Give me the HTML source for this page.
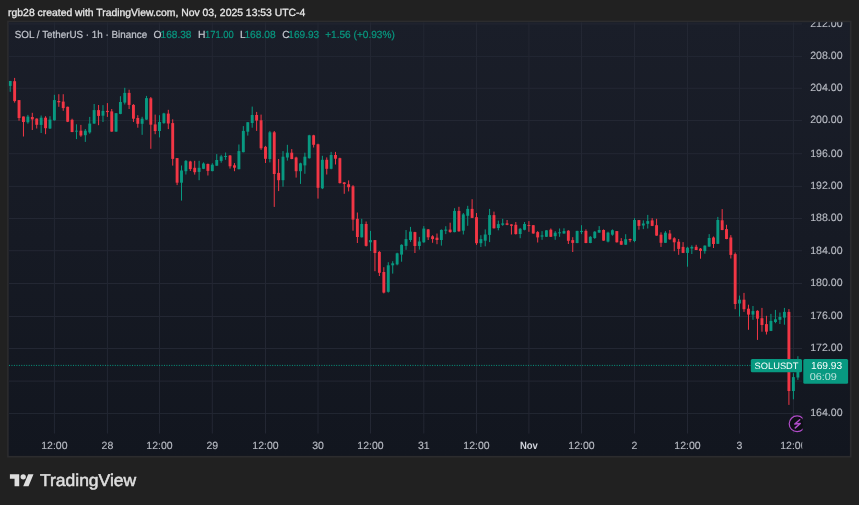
<!DOCTYPE html><html><head><meta charset="utf-8"><style>html,body{margin:0;padding:0;background:#212121;width:859px;height:505px;overflow:hidden}svg{display:block}text{font-family:"Liberation Sans", Arial, sans-serif;text-rendering:geometricPrecision}</style></head><body>
<svg width="859" height="505" viewBox="0 0 859 505">
<rect width="859" height="505" fill="#212121"/>
<text x="8.1" y="15.9" font-size="10.4" fill="#e6e6e6" stroke="#e6e6e6" stroke-width="0.3">rgb28 created with TradingView.com, Nov 03, 2025 13:53 UTC-4</text>
<defs><linearGradient id="bgg" x1="0" y1="0" x2="0" y2="1"><stop offset="0" stop-color="#1a1e29"/><stop offset="1" stop-color="#12161f"/></linearGradient></defs>
<rect x="7.9" y="21.4" width="842.8" height="435.3" fill="url(#bgg)" stroke="#2c2c2e" stroke-width="1.6"/>
<defs><clipPath id="pane"><rect x="8.7" y="22.2" width="793.5" height="411.5"/></clipPath><clipPath id="panel"><rect x="8.7" y="22.2" width="841.3" height="433.5"/></clipPath></defs>
<g clip-path="url(#pane)">
<rect x="8.7" y="23.40" width="793.5" height="1" fill="#232733"/>
<rect x="8.7" y="55.90" width="793.5" height="1" fill="#232733"/>
<rect x="8.7" y="87.80" width="793.5" height="1" fill="#232733"/>
<rect x="8.7" y="120.00" width="793.5" height="1" fill="#232733"/>
<rect x="8.7" y="153.20" width="793.5" height="1" fill="#232733"/>
<rect x="8.7" y="185.90" width="793.5" height="1" fill="#232733"/>
<rect x="8.7" y="218.00" width="793.5" height="1" fill="#232733"/>
<rect x="8.7" y="250.20" width="793.5" height="1" fill="#232733"/>
<rect x="8.7" y="283.00" width="793.5" height="1" fill="#232733"/>
<rect x="8.7" y="316.00" width="793.5" height="1" fill="#232733"/>
<rect x="8.7" y="348.00" width="793.5" height="1" fill="#232733"/>
<rect x="8.7" y="380.60" width="793.5" height="1" fill="#232733"/>
<rect x="8.7" y="412.95" width="793.5" height="1" fill="#232733"/>
<rect x="53.90" y="22.2" width="1" height="411.5" fill="#232733"/>
<rect x="106.90" y="22.2" width="1" height="411.5" fill="#232733"/>
<rect x="159.00" y="22.2" width="1" height="411.5" fill="#232733"/>
<rect x="211.80" y="22.2" width="1" height="411.5" fill="#232733"/>
<rect x="265.00" y="22.2" width="1" height="411.5" fill="#232733"/>
<rect x="317.50" y="22.2" width="1" height="411.5" fill="#232733"/>
<rect x="370.00" y="22.2" width="1" height="411.5" fill="#232733"/>
<rect x="423.30" y="22.2" width="1" height="411.5" fill="#232733"/>
<rect x="476.00" y="22.2" width="1" height="411.5" fill="#232733"/>
<rect x="528.40" y="22.2" width="1" height="411.5" fill="#232733"/>
<rect x="581.00" y="22.2" width="1" height="411.5" fill="#232733"/>
<rect x="634.00" y="22.2" width="1" height="411.5" fill="#232733"/>
<rect x="687.00" y="22.2" width="1" height="411.5" fill="#232733"/>
<rect x="739.00" y="22.2" width="1" height="411.5" fill="#232733"/>
<rect x="792.90" y="22.2" width="1" height="411.5" fill="#232733"/>
</g>
<g clip-path="url(#pane)">
<rect x="9.70" y="80.90" width="1" height="10.90" fill="#089981"/>
<rect x="8.75" y="81.00" width="2.9" height="4.90" fill="#089981"/>
<rect x="14.12" y="77.90" width="1" height="24.70" fill="#f23645"/>
<rect x="13.17" y="81.20" width="2.9" height="19.90" fill="#f23645"/>
<rect x="18.54" y="100.10" width="1" height="20.60" fill="#f23645"/>
<rect x="17.59" y="100.10" width="2.9" height="17.90" fill="#f23645"/>
<rect x="22.96" y="116.50" width="1" height="20.00" fill="#f23645"/>
<rect x="22.01" y="116.50" width="2.9" height="5.50" fill="#f23645"/>
<rect x="27.38" y="114.90" width="1" height="8.80" fill="#089981"/>
<rect x="26.43" y="116.60" width="2.9" height="5.70" fill="#089981"/>
<rect x="31.80" y="112.80" width="1" height="17.20" fill="#f23645"/>
<rect x="30.85" y="117.00" width="2.9" height="2.40" fill="#f23645"/>
<rect x="36.22" y="118.30" width="1" height="10.20" fill="#f23645"/>
<rect x="35.27" y="118.60" width="2.9" height="6.20" fill="#f23645"/>
<rect x="40.64" y="115.50" width="1" height="17.50" fill="#089981"/>
<rect x="39.69" y="117.70" width="2.9" height="7.20" fill="#089981"/>
<rect x="45.06" y="116.20" width="1" height="18.00" fill="#f23645"/>
<rect x="44.11" y="117.70" width="2.9" height="10.50" fill="#f23645"/>
<rect x="49.48" y="116.20" width="1" height="12.80" fill="#089981"/>
<rect x="48.53" y="119.60" width="2.9" height="8.90" fill="#089981"/>
<rect x="53.90" y="94.80" width="1" height="25.90" fill="#089981"/>
<rect x="52.95" y="100.10" width="2.9" height="20.20" fill="#089981"/>
<rect x="58.32" y="94.20" width="1" height="12.60" fill="#f23645"/>
<rect x="57.37" y="101.00" width="2.9" height="1.30" fill="#f23645"/>
<rect x="62.73" y="94.20" width="1" height="16.60" fill="#f23645"/>
<rect x="61.78" y="101.60" width="2.9" height="6.50" fill="#f23645"/>
<rect x="67.15" y="106.60" width="1" height="15.50" fill="#f23645"/>
<rect x="66.20" y="106.80" width="2.9" height="14.90" fill="#f23645"/>
<rect x="71.57" y="118.70" width="1" height="13.50" fill="#f23645"/>
<rect x="70.62" y="119.80" width="2.9" height="12.20" fill="#f23645"/>
<rect x="75.98" y="124.30" width="1" height="14.80" fill="#089981"/>
<rect x="75.03" y="130.70" width="2.9" height="0.90" fill="#089981"/>
<rect x="80.40" y="124.90" width="1" height="11.90" fill="#f23645"/>
<rect x="79.45" y="130.70" width="2.9" height="4.80" fill="#f23645"/>
<rect x="84.82" y="129.00" width="1" height="12.90" fill="#089981"/>
<rect x="83.87" y="130.70" width="2.9" height="4.50" fill="#089981"/>
<rect x="89.23" y="116.90" width="1" height="16.80" fill="#089981"/>
<rect x="88.28" y="123.60" width="2.9" height="8.80" fill="#089981"/>
<rect x="93.65" y="104.00" width="1" height="19.80" fill="#089981"/>
<rect x="92.70" y="110.10" width="2.9" height="13.50" fill="#089981"/>
<rect x="98.07" y="105.00" width="1" height="20.20" fill="#f23645"/>
<rect x="97.12" y="110.10" width="2.9" height="5.80" fill="#f23645"/>
<rect x="102.48" y="105.10" width="1" height="16.90" fill="#089981"/>
<rect x="101.53" y="110.90" width="2.9" height="4.80" fill="#089981"/>
<rect x="106.90" y="103.10" width="1" height="13.80" fill="#f23645"/>
<rect x="105.95" y="110.90" width="2.9" height="1.20" fill="#f23645"/>
<rect x="111.24" y="109.00" width="1" height="22.80" fill="#f23645"/>
<rect x="110.29" y="111.40" width="2.9" height="20.20" fill="#f23645"/>
<rect x="115.58" y="113.00" width="1" height="18.80" fill="#089981"/>
<rect x="114.63" y="113.20" width="2.9" height="18.40" fill="#089981"/>
<rect x="119.93" y="96.20" width="1" height="18.00" fill="#089981"/>
<rect x="118.98" y="102.00" width="2.9" height="11.90" fill="#089981"/>
<rect x="124.27" y="87.80" width="1" height="16.70" fill="#089981"/>
<rect x="123.32" y="92.90" width="2.9" height="9.70" fill="#089981"/>
<rect x="128.61" y="89.70" width="1" height="19.30" fill="#f23645"/>
<rect x="127.66" y="92.90" width="2.9" height="12.00" fill="#f23645"/>
<rect x="132.95" y="104.10" width="1" height="17.80" fill="#f23645"/>
<rect x="132.00" y="104.90" width="2.9" height="13.80" fill="#f23645"/>
<rect x="137.29" y="115.20" width="1" height="12.50" fill="#f23645"/>
<rect x="136.34" y="118.00" width="2.9" height="5.80" fill="#f23645"/>
<rect x="141.63" y="116.80" width="1" height="18.00" fill="#089981"/>
<rect x="140.68" y="118.70" width="2.9" height="5.10" fill="#089981"/>
<rect x="145.97" y="95.90" width="1" height="23.90" fill="#089981"/>
<rect x="145.03" y="98.10" width="2.9" height="21.50" fill="#089981"/>
<rect x="150.32" y="97.00" width="1" height="51.80" fill="#f23645"/>
<rect x="149.37" y="98.30" width="2.9" height="26.40" fill="#f23645"/>
<rect x="154.66" y="114.60" width="1" height="19.60" fill="#f23645"/>
<rect x="153.71" y="124.40" width="2.9" height="6.60" fill="#f23645"/>
<rect x="159.00" y="115.20" width="1" height="22.20" fill="#089981"/>
<rect x="158.05" y="122.00" width="2.9" height="9.00" fill="#089981"/>
<rect x="163.40" y="112.80" width="1" height="11.00" fill="#089981"/>
<rect x="162.45" y="113.40" width="2.9" height="9.70" fill="#089981"/>
<rect x="167.80" y="109.80" width="1" height="19.30" fill="#f23645"/>
<rect x="166.85" y="113.60" width="2.9" height="9.90" fill="#f23645"/>
<rect x="172.20" y="119.30" width="1" height="46.30" fill="#f23645"/>
<rect x="171.25" y="123.10" width="2.9" height="35.80" fill="#f23645"/>
<rect x="176.60" y="158.00" width="1" height="27.10" fill="#f23645"/>
<rect x="175.65" y="158.10" width="2.9" height="24.60" fill="#f23645"/>
<rect x="181.00" y="165.50" width="1" height="35.10" fill="#089981"/>
<rect x="180.05" y="170.50" width="2.9" height="12.20" fill="#089981"/>
<rect x="185.40" y="160.00" width="1" height="14.50" fill="#089981"/>
<rect x="184.45" y="160.90" width="2.9" height="10.30" fill="#089981"/>
<rect x="189.80" y="160.80" width="1" height="10.20" fill="#f23645"/>
<rect x="188.85" y="161.50" width="2.9" height="7.60" fill="#f23645"/>
<rect x="194.20" y="160.80" width="1" height="13.80" fill="#f23645"/>
<rect x="193.25" y="167.80" width="2.9" height="4.40" fill="#f23645"/>
<rect x="198.60" y="160.80" width="1" height="19.40" fill="#089981"/>
<rect x="197.65" y="167.80" width="2.9" height="4.10" fill="#089981"/>
<rect x="203.00" y="162.40" width="1" height="6.70" fill="#089981"/>
<rect x="202.05" y="163.50" width="2.9" height="5.30" fill="#089981"/>
<rect x="207.40" y="163.50" width="1" height="12.00" fill="#f23645"/>
<rect x="206.45" y="164.00" width="2.9" height="6.90" fill="#f23645"/>
<rect x="211.80" y="163.20" width="1" height="8.10" fill="#089981"/>
<rect x="210.85" y="164.70" width="2.9" height="6.40" fill="#089981"/>
<rect x="216.23" y="154.10" width="1" height="11.70" fill="#089981"/>
<rect x="215.28" y="160.00" width="2.9" height="5.70" fill="#089981"/>
<rect x="220.67" y="154.80" width="1" height="7.90" fill="#089981"/>
<rect x="219.72" y="156.40" width="2.9" height="4.50" fill="#089981"/>
<rect x="225.10" y="152.50" width="1" height="7.30" fill="#089981"/>
<rect x="224.15" y="156.00" width="2.9" height="1.00" fill="#089981"/>
<rect x="229.53" y="155.00" width="1" height="13.60" fill="#f23645"/>
<rect x="228.58" y="155.50" width="2.9" height="10.80" fill="#f23645"/>
<rect x="233.97" y="163.10" width="1" height="8.10" fill="#f23645"/>
<rect x="233.02" y="165.30" width="2.9" height="2.40" fill="#f23645"/>
<rect x="238.40" y="144.50" width="1" height="24.80" fill="#089981"/>
<rect x="237.45" y="151.10" width="2.9" height="18.10" fill="#089981"/>
<rect x="242.83" y="126.10" width="1" height="26.20" fill="#089981"/>
<rect x="241.88" y="130.90" width="2.9" height="21.30" fill="#089981"/>
<rect x="247.27" y="122.20" width="1" height="13.40" fill="#089981"/>
<rect x="246.32" y="122.20" width="2.9" height="9.50" fill="#089981"/>
<rect x="251.70" y="106.60" width="1" height="21.10" fill="#089981"/>
<rect x="250.75" y="115.00" width="2.9" height="8.00" fill="#089981"/>
<rect x="256.13" y="111.90" width="1" height="19.00" fill="#f23645"/>
<rect x="255.18" y="115.00" width="2.9" height="5.60" fill="#f23645"/>
<rect x="260.57" y="114.60" width="1" height="35.30" fill="#f23645"/>
<rect x="259.62" y="120.30" width="2.9" height="28.00" fill="#f23645"/>
<rect x="265.00" y="145.90" width="1" height="17.10" fill="#f23645"/>
<rect x="264.05" y="146.80" width="2.9" height="12.00" fill="#f23645"/>
<rect x="269.38" y="130.90" width="1" height="31.50" fill="#089981"/>
<rect x="268.43" y="132.30" width="2.9" height="26.70" fill="#089981"/>
<rect x="273.75" y="131.00" width="1" height="75.90" fill="#f23645"/>
<rect x="272.80" y="132.30" width="2.9" height="41.70" fill="#f23645"/>
<rect x="278.12" y="159.00" width="1" height="32.10" fill="#f23645"/>
<rect x="277.18" y="172.90" width="2.9" height="7.30" fill="#f23645"/>
<rect x="282.50" y="151.10" width="1" height="35.60" fill="#089981"/>
<rect x="281.55" y="156.70" width="2.9" height="23.50" fill="#089981"/>
<rect x="286.88" y="144.80" width="1" height="15.80" fill="#089981"/>
<rect x="285.93" y="152.70" width="2.9" height="4.80" fill="#089981"/>
<rect x="291.25" y="149.10" width="1" height="10.10" fill="#f23645"/>
<rect x="290.30" y="152.70" width="2.9" height="6.30" fill="#f23645"/>
<rect x="295.62" y="156.70" width="1" height="20.90" fill="#f23645"/>
<rect x="294.68" y="157.50" width="2.9" height="13.70" fill="#f23645"/>
<rect x="300.00" y="162.70" width="1" height="21.20" fill="#089981"/>
<rect x="299.05" y="163.30" width="2.9" height="7.90" fill="#089981"/>
<rect x="304.38" y="152.70" width="1" height="21.10" fill="#089981"/>
<rect x="303.43" y="156.70" width="2.9" height="8.70" fill="#089981"/>
<rect x="308.75" y="134.80" width="1" height="23.80" fill="#089981"/>
<rect x="307.80" y="135.30" width="2.9" height="22.90" fill="#089981"/>
<rect x="313.12" y="134.80" width="1" height="12.70" fill="#f23645"/>
<rect x="312.18" y="135.30" width="2.9" height="9.50" fill="#f23645"/>
<rect x="317.50" y="143.70" width="1" height="54.90" fill="#f23645"/>
<rect x="316.55" y="144.30" width="2.9" height="43.50" fill="#f23645"/>
<rect x="321.88" y="155.80" width="1" height="33.30" fill="#089981"/>
<rect x="320.93" y="159.80" width="2.9" height="28.50" fill="#089981"/>
<rect x="326.25" y="157.40" width="1" height="17.10" fill="#f23645"/>
<rect x="325.30" y="159.80" width="2.9" height="9.00" fill="#f23645"/>
<rect x="330.62" y="151.90" width="1" height="17.40" fill="#089981"/>
<rect x="329.68" y="155.00" width="2.9" height="13.80" fill="#089981"/>
<rect x="335.00" y="151.90" width="1" height="12.60" fill="#f23645"/>
<rect x="334.05" y="155.00" width="2.9" height="3.70" fill="#f23645"/>
<rect x="339.38" y="157.70" width="1" height="25.80" fill="#f23645"/>
<rect x="338.43" y="158.20" width="2.9" height="24.90" fill="#f23645"/>
<rect x="343.75" y="182.00" width="1" height="11.80" fill="#f23645"/>
<rect x="342.80" y="182.40" width="2.9" height="1.60" fill="#f23645"/>
<rect x="348.12" y="180.40" width="1" height="11.00" fill="#f23645"/>
<rect x="347.18" y="184.30" width="2.9" height="2.90" fill="#f23645"/>
<rect x="352.50" y="185.10" width="1" height="45.60" fill="#f23645"/>
<rect x="351.55" y="186.30" width="2.9" height="33.30" fill="#f23645"/>
<rect x="356.88" y="212.50" width="1" height="30.50" fill="#f23645"/>
<rect x="355.93" y="218.80" width="2.9" height="18.20" fill="#f23645"/>
<rect x="361.25" y="218.80" width="1" height="18.70" fill="#089981"/>
<rect x="360.30" y="224.00" width="2.9" height="13.30" fill="#089981"/>
<rect x="365.62" y="221.50" width="1" height="25.00" fill="#f23645"/>
<rect x="364.68" y="224.00" width="2.9" height="21.90" fill="#f23645"/>
<rect x="370.00" y="230.90" width="1" height="20.10" fill="#089981"/>
<rect x="369.05" y="240.10" width="2.9" height="2.20" fill="#089981"/>
<rect x="374.44" y="240.00" width="1" height="31.20" fill="#f23645"/>
<rect x="373.49" y="240.10" width="2.9" height="12.90" fill="#f23645"/>
<rect x="378.88" y="251.10" width="1" height="24.90" fill="#f23645"/>
<rect x="377.93" y="251.90" width="2.9" height="20.90" fill="#f23645"/>
<rect x="383.32" y="267.20" width="1" height="26.20" fill="#f23645"/>
<rect x="382.38" y="272.00" width="2.9" height="20.60" fill="#f23645"/>
<rect x="387.77" y="262.20" width="1" height="30.40" fill="#089981"/>
<rect x="386.82" y="265.30" width="2.9" height="26.50" fill="#089981"/>
<rect x="392.21" y="261.20" width="1" height="12.40" fill="#089981"/>
<rect x="391.26" y="263.30" width="2.9" height="2.00" fill="#089981"/>
<rect x="396.65" y="252.70" width="1" height="12.60" fill="#089981"/>
<rect x="395.70" y="253.30" width="2.9" height="11.10" fill="#089981"/>
<rect x="401.09" y="244.30" width="1" height="17.40" fill="#089981"/>
<rect x="400.14" y="244.80" width="2.9" height="9.80" fill="#089981"/>
<rect x="405.53" y="230.00" width="1" height="19.80" fill="#089981"/>
<rect x="404.58" y="239.10" width="2.9" height="6.80" fill="#089981"/>
<rect x="409.98" y="226.90" width="1" height="15.00" fill="#089981"/>
<rect x="409.03" y="231.60" width="2.9" height="8.40" fill="#089981"/>
<rect x="414.42" y="231.80" width="1" height="21.20" fill="#f23645"/>
<rect x="413.47" y="232.10" width="2.9" height="13.90" fill="#f23645"/>
<rect x="418.86" y="236.90" width="1" height="12.70" fill="#089981"/>
<rect x="417.91" y="241.50" width="2.9" height="4.50" fill="#089981"/>
<rect x="423.30" y="226.10" width="1" height="16.70" fill="#089981"/>
<rect x="422.35" y="228.60" width="2.9" height="13.70" fill="#089981"/>
<rect x="427.69" y="229.00" width="1" height="11.00" fill="#f23645"/>
<rect x="426.74" y="229.40" width="2.9" height="7.90" fill="#f23645"/>
<rect x="432.08" y="235.20" width="1" height="7.60" fill="#f23645"/>
<rect x="431.13" y="236.30" width="2.9" height="2.80" fill="#f23645"/>
<rect x="436.48" y="233.50" width="1" height="10.70" fill="#f23645"/>
<rect x="435.53" y="237.70" width="2.9" height="2.30" fill="#f23645"/>
<rect x="440.87" y="229.40" width="1" height="16.20" fill="#089981"/>
<rect x="439.92" y="229.90" width="2.9" height="10.10" fill="#089981"/>
<rect x="445.26" y="226.20" width="1" height="7.90" fill="#089981"/>
<rect x="444.31" y="229.60" width="2.9" height="1.10" fill="#089981"/>
<rect x="449.65" y="222.70" width="1" height="10.00" fill="#f23645"/>
<rect x="448.70" y="229.60" width="2.9" height="2.50" fill="#f23645"/>
<rect x="454.04" y="208.20" width="1" height="24.10" fill="#089981"/>
<rect x="453.09" y="210.90" width="2.9" height="21.20" fill="#089981"/>
<rect x="458.43" y="206.80" width="1" height="24.90" fill="#f23645"/>
<rect x="457.48" y="210.90" width="2.9" height="20.40" fill="#f23645"/>
<rect x="462.82" y="213.00" width="1" height="21.50" fill="#089981"/>
<rect x="461.88" y="214.40" width="2.9" height="16.30" fill="#089981"/>
<rect x="467.22" y="205.80" width="1" height="20.00" fill="#089981"/>
<rect x="466.27" y="208.90" width="2.9" height="6.90" fill="#089981"/>
<rect x="471.61" y="199.20" width="1" height="18.90" fill="#f23645"/>
<rect x="470.66" y="208.90" width="2.9" height="9.00" fill="#f23645"/>
<rect x="476.00" y="213.00" width="1" height="31.90" fill="#f23645"/>
<rect x="475.05" y="217.20" width="2.9" height="26.00" fill="#f23645"/>
<rect x="480.37" y="235.20" width="1" height="11.80" fill="#089981"/>
<rect x="479.42" y="239.10" width="2.9" height="4.10" fill="#089981"/>
<rect x="484.73" y="229.40" width="1" height="16.90" fill="#089981"/>
<rect x="483.78" y="234.50" width="2.9" height="6.20" fill="#089981"/>
<rect x="489.10" y="208.90" width="1" height="33.20" fill="#089981"/>
<rect x="488.15" y="215.10" width="2.9" height="19.80" fill="#089981"/>
<rect x="493.47" y="211.60" width="1" height="16.90" fill="#f23645"/>
<rect x="492.52" y="215.10" width="2.9" height="13.20" fill="#f23645"/>
<rect x="497.83" y="220.60" width="1" height="9.70" fill="#089981"/>
<rect x="496.88" y="224.10" width="2.9" height="3.90" fill="#089981"/>
<rect x="502.20" y="218.80" width="1" height="7.00" fill="#089981"/>
<rect x="501.25" y="223.40" width="2.9" height="1.40" fill="#089981"/>
<rect x="506.57" y="220.00" width="1" height="5.20" fill="#f23645"/>
<rect x="505.62" y="223.40" width="2.9" height="1.40" fill="#f23645"/>
<rect x="510.93" y="224.20" width="1" height="10.30" fill="#f23645"/>
<rect x="509.98" y="224.40" width="2.9" height="1.40" fill="#f23645"/>
<rect x="515.30" y="222.00" width="1" height="12.50" fill="#f23645"/>
<rect x="514.35" y="224.80" width="2.9" height="9.30" fill="#f23645"/>
<rect x="519.67" y="227.90" width="1" height="10.30" fill="#089981"/>
<rect x="518.72" y="228.80" width="2.9" height="5.20" fill="#089981"/>
<rect x="524.03" y="222.00" width="1" height="8.30" fill="#089981"/>
<rect x="523.08" y="224.00" width="2.9" height="5.80" fill="#089981"/>
<rect x="528.40" y="221.10" width="1" height="10.70" fill="#f23645"/>
<rect x="527.45" y="225.00" width="2.9" height="0.90" fill="#f23645"/>
<rect x="532.78" y="225.00" width="1" height="8.70" fill="#f23645"/>
<rect x="531.83" y="225.20" width="2.9" height="8.30" fill="#f23645"/>
<rect x="537.17" y="231.10" width="1" height="11.40" fill="#f23645"/>
<rect x="536.22" y="232.10" width="2.9" height="5.30" fill="#f23645"/>
<rect x="541.55" y="231.10" width="1" height="8.70" fill="#089981"/>
<rect x="540.60" y="235.40" width="2.9" height="1.20" fill="#089981"/>
<rect x="545.93" y="230.20" width="1" height="6.80" fill="#089981"/>
<rect x="544.98" y="230.30" width="2.9" height="6.50" fill="#089981"/>
<rect x="550.32" y="228.50" width="1" height="8.50" fill="#f23645"/>
<rect x="549.37" y="229.70" width="2.9" height="7.10" fill="#f23645"/>
<rect x="554.70" y="231.10" width="1" height="8.70" fill="#089981"/>
<rect x="553.75" y="232.70" width="2.9" height="3.50" fill="#089981"/>
<rect x="559.08" y="228.50" width="1" height="8.30" fill="#089981"/>
<rect x="558.13" y="232.30" width="2.9" height="1.00" fill="#089981"/>
<rect x="563.47" y="228.30" width="1" height="5.40" fill="#089981"/>
<rect x="562.52" y="231.10" width="2.9" height="2.40" fill="#089981"/>
<rect x="567.85" y="230.20" width="1" height="13.80" fill="#f23645"/>
<rect x="566.90" y="230.70" width="2.9" height="10.10" fill="#f23645"/>
<rect x="572.23" y="237.20" width="1" height="14.80" fill="#f23645"/>
<rect x="571.28" y="240.10" width="2.9" height="2.80" fill="#f23645"/>
<rect x="576.62" y="230.80" width="1" height="12.40" fill="#089981"/>
<rect x="575.67" y="230.90" width="2.9" height="12.10" fill="#089981"/>
<rect x="581.00" y="225.20" width="1" height="8.90" fill="#089981"/>
<rect x="580.05" y="230.90" width="2.9" height="1.20" fill="#089981"/>
<rect x="585.42" y="229.40" width="1" height="13.80" fill="#f23645"/>
<rect x="584.47" y="230.90" width="2.9" height="12.10" fill="#f23645"/>
<rect x="589.83" y="236.10" width="1" height="7.10" fill="#089981"/>
<rect x="588.88" y="236.80" width="2.9" height="6.20" fill="#089981"/>
<rect x="594.25" y="231.10" width="1" height="7.80" fill="#089981"/>
<rect x="593.30" y="231.70" width="2.9" height="6.30" fill="#089981"/>
<rect x="598.67" y="226.10" width="1" height="6.70" fill="#089981"/>
<rect x="597.72" y="230.00" width="2.9" height="2.60" fill="#089981"/>
<rect x="603.08" y="229.40" width="1" height="11.40" fill="#f23645"/>
<rect x="602.13" y="230.00" width="2.9" height="10.60" fill="#f23645"/>
<rect x="607.50" y="231.70" width="1" height="10.70" fill="#089981"/>
<rect x="606.55" y="232.60" width="2.9" height="9.00" fill="#089981"/>
<rect x="611.92" y="229.40" width="1" height="6.30" fill="#089981"/>
<rect x="610.97" y="230.20" width="2.9" height="4.50" fill="#089981"/>
<rect x="616.33" y="231.00" width="1" height="11.50" fill="#f23645"/>
<rect x="615.38" y="231.10" width="2.9" height="11.20" fill="#f23645"/>
<rect x="620.75" y="238.10" width="1" height="6.80" fill="#f23645"/>
<rect x="619.80" y="241.10" width="2.9" height="3.60" fill="#f23645"/>
<rect x="625.17" y="234.20" width="1" height="10.70" fill="#089981"/>
<rect x="624.22" y="239.20" width="2.9" height="5.50" fill="#089981"/>
<rect x="629.58" y="238.60" width="1" height="3.60" fill="#f23645"/>
<rect x="628.63" y="239.00" width="2.9" height="1.20" fill="#f23645"/>
<rect x="634.00" y="218.10" width="1" height="24.10" fill="#089981"/>
<rect x="633.05" y="220.00" width="2.9" height="21.00" fill="#089981"/>
<rect x="638.42" y="220.00" width="1" height="9.70" fill="#f23645"/>
<rect x="637.47" y="220.10" width="2.9" height="5.80" fill="#f23645"/>
<rect x="642.83" y="220.40" width="1" height="8.70" fill="#089981"/>
<rect x="641.88" y="223.50" width="2.9" height="2.00" fill="#089981"/>
<rect x="647.25" y="214.90" width="1" height="13.60" fill="#089981"/>
<rect x="646.30" y="221.10" width="2.9" height="2.70" fill="#089981"/>
<rect x="651.67" y="218.10" width="1" height="8.00" fill="#f23645"/>
<rect x="650.72" y="220.40" width="2.9" height="5.50" fill="#f23645"/>
<rect x="656.08" y="218.80" width="1" height="17.00" fill="#f23645"/>
<rect x="655.13" y="225.20" width="2.9" height="10.40" fill="#f23645"/>
<rect x="660.50" y="232.30" width="1" height="14.60" fill="#f23645"/>
<rect x="659.55" y="234.70" width="2.9" height="8.10" fill="#f23645"/>
<rect x="664.92" y="231.10" width="1" height="11.90" fill="#089981"/>
<rect x="663.97" y="232.70" width="2.9" height="10.10" fill="#089981"/>
<rect x="669.33" y="230.00" width="1" height="9.80" fill="#f23645"/>
<rect x="668.38" y="233.50" width="2.9" height="5.80" fill="#f23645"/>
<rect x="673.75" y="237.20" width="1" height="14.00" fill="#f23645"/>
<rect x="672.80" y="238.30" width="2.9" height="4.00" fill="#f23645"/>
<rect x="678.17" y="239.00" width="1" height="15.80" fill="#f23645"/>
<rect x="677.22" y="241.70" width="2.9" height="7.20" fill="#f23645"/>
<rect x="682.58" y="242.10" width="1" height="11.00" fill="#f23645"/>
<rect x="681.63" y="246.90" width="2.9" height="6.00" fill="#f23645"/>
<rect x="687.00" y="246.80" width="1" height="19.90" fill="#089981"/>
<rect x="686.05" y="247.70" width="2.9" height="5.20" fill="#089981"/>
<rect x="691.33" y="245.30" width="1" height="8.70" fill="#089981"/>
<rect x="690.38" y="246.90" width="2.9" height="1.60" fill="#089981"/>
<rect x="695.67" y="244.80" width="1" height="5.30" fill="#f23645"/>
<rect x="694.72" y="246.80" width="2.9" height="3.20" fill="#f23645"/>
<rect x="700.00" y="248.00" width="1" height="10.70" fill="#f23645"/>
<rect x="699.05" y="248.60" width="2.9" height="2.30" fill="#f23645"/>
<rect x="704.33" y="245.40" width="1" height="8.30" fill="#089981"/>
<rect x="703.38" y="245.60" width="2.9" height="5.50" fill="#089981"/>
<rect x="708.67" y="234.10" width="1" height="12.70" fill="#089981"/>
<rect x="707.72" y="238.00" width="2.9" height="8.60" fill="#089981"/>
<rect x="713.00" y="236.50" width="1" height="11.50" fill="#f23645"/>
<rect x="712.05" y="237.50" width="2.9" height="6.50" fill="#f23645"/>
<rect x="717.33" y="216.90" width="1" height="27.10" fill="#089981"/>
<rect x="716.38" y="220.00" width="2.9" height="23.80" fill="#089981"/>
<rect x="721.67" y="209.10" width="1" height="21.10" fill="#f23645"/>
<rect x="720.72" y="220.30" width="2.9" height="9.70" fill="#f23645"/>
<rect x="726.00" y="224.80" width="1" height="14.40" fill="#f23645"/>
<rect x="725.05" y="229.10" width="2.9" height="9.90" fill="#f23645"/>
<rect x="730.33" y="235.10" width="1" height="23.40" fill="#f23645"/>
<rect x="729.38" y="237.50" width="2.9" height="17.40" fill="#f23645"/>
<rect x="734.67" y="252.50" width="1" height="56.70" fill="#f23645"/>
<rect x="733.72" y="254.10" width="2.9" height="49.90" fill="#f23645"/>
<rect x="739.00" y="295.60" width="1" height="21.00" fill="#089981"/>
<rect x="738.05" y="299.70" width="2.9" height="3.80" fill="#089981"/>
<rect x="743.49" y="292.90" width="1" height="19.00" fill="#f23645"/>
<rect x="742.54" y="299.70" width="2.9" height="9.50" fill="#f23645"/>
<rect x="747.98" y="304.70" width="1" height="25.10" fill="#f23645"/>
<rect x="747.03" y="308.70" width="2.9" height="5.90" fill="#f23645"/>
<rect x="752.48" y="306.00" width="1" height="13.80" fill="#089981"/>
<rect x="751.52" y="311.10" width="2.9" height="3.50" fill="#089981"/>
<rect x="756.97" y="310.30" width="1" height="29.60" fill="#f23645"/>
<rect x="756.02" y="310.80" width="2.9" height="7.90" fill="#f23645"/>
<rect x="761.46" y="307.90" width="1" height="23.80" fill="#f23645"/>
<rect x="760.51" y="318.20" width="2.9" height="6.80" fill="#f23645"/>
<rect x="765.95" y="315.80" width="1" height="18.70" fill="#f23645"/>
<rect x="765.00" y="324.10" width="2.9" height="7.60" fill="#f23645"/>
<rect x="770.44" y="313.90" width="1" height="17.20" fill="#089981"/>
<rect x="769.49" y="320.90" width="2.9" height="10.00" fill="#089981"/>
<rect x="774.93" y="309.90" width="1" height="13.30" fill="#089981"/>
<rect x="773.98" y="319.30" width="2.9" height="2.70" fill="#089981"/>
<rect x="779.42" y="312.50" width="1" height="11.50" fill="#089981"/>
<rect x="778.47" y="317.00" width="2.9" height="2.80" fill="#089981"/>
<rect x="783.92" y="307.90" width="1" height="16.80" fill="#089981"/>
<rect x="782.97" y="311.90" width="2.9" height="5.70" fill="#089981"/>
<rect x="788.41" y="309.10" width="1" height="95.80" fill="#f23645"/>
<rect x="787.46" y="311.90" width="2.9" height="79.10" fill="#f23645"/>
<rect x="792.90" y="373.20" width="1" height="26.10" fill="#089981"/>
<rect x="791.95" y="377.10" width="2.9" height="13.90" fill="#089981"/>
<rect x="797.39" y="356.20" width="1" height="23.70" fill="#089981"/>
<rect x="796.44" y="364.90" width="2.9" height="12.60" fill="#089981"/>
</g>
<line x1="9" y1="365.4" x2="751" y2="365.4" stroke="#089981" stroke-width="1" stroke-dasharray="1 1.46"/>
<g clip-path="url(#panel)">
<text x="842.6" y="26.80" font-size="10.6" fill="#babdc5" stroke="#babdc5" stroke-width="0.12" text-anchor="end">212.00</text>
<text x="842.6" y="59.30" font-size="10.6" fill="#babdc5" stroke="#babdc5" stroke-width="0.12" text-anchor="end">208.00</text>
<text x="842.6" y="91.20" font-size="10.6" fill="#babdc5" stroke="#babdc5" stroke-width="0.12" text-anchor="end">204.00</text>
<text x="842.6" y="123.40" font-size="10.6" fill="#babdc5" stroke="#babdc5" stroke-width="0.12" text-anchor="end">200.00</text>
<text x="842.6" y="156.60" font-size="10.6" fill="#babdc5" stroke="#babdc5" stroke-width="0.12" text-anchor="end">196.00</text>
<text x="842.6" y="189.30" font-size="10.6" fill="#babdc5" stroke="#babdc5" stroke-width="0.12" text-anchor="end">192.00</text>
<text x="842.6" y="221.40" font-size="10.6" fill="#babdc5" stroke="#babdc5" stroke-width="0.12" text-anchor="end">188.00</text>
<text x="842.6" y="253.60" font-size="10.6" fill="#babdc5" stroke="#babdc5" stroke-width="0.12" text-anchor="end">184.00</text>
<text x="842.6" y="286.40" font-size="10.6" fill="#babdc5" stroke="#babdc5" stroke-width="0.12" text-anchor="end">180.00</text>
<text x="842.6" y="319.40" font-size="10.6" fill="#babdc5" stroke="#babdc5" stroke-width="0.12" text-anchor="end">176.00</text>
<text x="842.6" y="351.40" font-size="10.6" fill="#babdc5" stroke="#babdc5" stroke-width="0.12" text-anchor="end">172.00</text>
<text x="842.6" y="416.35" font-size="10.6" fill="#babdc5" stroke="#babdc5" stroke-width="0.12" text-anchor="end">164.00</text>
</g>
<defs><clipPath id="taxis"><rect x="8.7" y="434" width="793.5" height="21"/></clipPath></defs>
<g clip-path="url(#taxis)">
<text x="54.40" y="449.2" font-size="10.5" fill="#babdc5" stroke="#babdc5" stroke-width="0.12" text-anchor="middle">12:00</text>
<text x="107.40" y="449.2" font-size="10.5" fill="#babdc5" stroke="#babdc5" stroke-width="0.12" text-anchor="middle">28</text>
<text x="159.50" y="449.2" font-size="10.5" fill="#babdc5" stroke="#babdc5" stroke-width="0.12" text-anchor="middle">12:00</text>
<text x="212.30" y="449.2" font-size="10.5" fill="#babdc5" stroke="#babdc5" stroke-width="0.12" text-anchor="middle">29</text>
<text x="265.50" y="449.2" font-size="10.5" fill="#babdc5" stroke="#babdc5" stroke-width="0.12" text-anchor="middle">12:00</text>
<text x="318.00" y="449.2" font-size="10.5" fill="#babdc5" stroke="#babdc5" stroke-width="0.12" text-anchor="middle">30</text>
<text x="370.50" y="449.2" font-size="10.5" fill="#babdc5" stroke="#babdc5" stroke-width="0.12" text-anchor="middle">12:00</text>
<text x="423.80" y="449.2" font-size="10.5" fill="#babdc5" stroke="#babdc5" stroke-width="0.12" text-anchor="middle">31</text>
<text x="476.50" y="449.2" font-size="10.5" fill="#babdc5" stroke="#babdc5" stroke-width="0.12" text-anchor="middle">12:00</text>
<text x="519.95" y="449.2" font-size="10.5" font-weight="bold" fill="#d1d4dc" textLength="17.89" lengthAdjust="spacingAndGlyphs" >Nov</text>
<text x="581.50" y="449.2" font-size="10.5" fill="#babdc5" stroke="#babdc5" stroke-width="0.12" text-anchor="middle">12:00</text>
<text x="634.50" y="449.2" font-size="10.5" fill="#babdc5" stroke="#babdc5" stroke-width="0.12" text-anchor="middle">2</text>
<text x="687.50" y="449.2" font-size="10.5" fill="#babdc5" stroke="#babdc5" stroke-width="0.12" text-anchor="middle">12:00</text>
<text x="739.50" y="449.2" font-size="10.5" fill="#babdc5" stroke="#babdc5" stroke-width="0.12" text-anchor="middle">3</text>
<text x="793.40" y="449.2" font-size="10.5" fill="#babdc5" stroke="#babdc5" stroke-width="0.12" text-anchor="middle">12:00</text>
</g>
<text x="14.80" y="37.8" font-size="10.3" fill="#c3c6ce" textLength="132.31" lengthAdjust="spacingAndGlyphs" stroke="#c3c6ce" stroke-width="0.2">SOL / TetherUS · 1h · Binance</text>
<text x="153.6" y="37.8" font-size="10.3" fill="#c3c6ce" stroke="#c3c6ce" stroke-width="0.2">O</text>
<text x="160.60" y="37.8" font-size="10.3" fill="#089981" textLength="30.89" lengthAdjust="spacingAndGlyphs" stroke="#089981" stroke-width="0.2">168.38</text>
<text x="198.1" y="37.8" font-size="10.3" fill="#c3c6ce" stroke="#c3c6ce" stroke-width="0.2">H</text>
<text x="205.00" y="37.8" font-size="10.3" fill="#089981" textLength="28.79" lengthAdjust="spacingAndGlyphs" stroke="#089981" stroke-width="0.2">171.00</text>
<text x="239.9" y="37.8" font-size="10.3" fill="#c3c6ce" stroke="#c3c6ce" stroke-width="0.2">L</text>
<text x="244.40" y="37.8" font-size="10.3" fill="#089981" textLength="31.19" lengthAdjust="spacingAndGlyphs" stroke="#089981" stroke-width="0.2">168.08</text>
<text x="282.3" y="37.8" font-size="10.3" fill="#c3c6ce" stroke="#c3c6ce" stroke-width="0.2">C</text>
<text x="288.30" y="37.8" font-size="10.3" fill="#089981" textLength="30.89" lengthAdjust="spacingAndGlyphs" stroke="#089981" stroke-width="0.2">169.93</text>
<text x="325.20" y="37.8" font-size="10.3" fill="#089981" textLength="69.59" lengthAdjust="spacingAndGlyphs" stroke="#089981" stroke-width="0.2">+1.56 (+0.93%)</text>
<rect x="750.8" y="359" width="51.2" height="13.2" rx="1.5" fill="#089981"/>
<text x="754.6" y="369" font-size="9.3" fill="#ffffff">SOLUSDT</text>
<rect x="803.3" y="359" width="44.8" height="24.8" rx="1.5" fill="#089981"/>
<text x="811" y="369" font-size="10.2" fill="#ffffff">169.93</text>
<text x="809.7" y="380.2" font-size="10.2" fill="#ffffff" fill-opacity="0.72" textLength="27.2" lengthAdjust="spacingAndGlyphs">06:09</text>
<defs><clipPath id="icl"><rect x="760" y="400" width="42.6" height="33"/></clipPath></defs>
<g clip-path="url(#icl)">
<circle cx="797.1" cy="423.8" r="7.9" fill="#0d0f15" stroke="#b04cc8" stroke-width="1.2"/>
<path d="M799.7 419.7 L794.8 424 L800.3 423.5 L795.3 427.9" fill="none" stroke="#b04cc8" stroke-width="1.5" stroke-linejoin="round" stroke-linecap="round"/>
</g>
<g fill="#dedede" transform="translate(9.9 471.5) scale(0.665)"><path d="M14 22H7V11H0V4h14v18zM28 22h-8l7.5-18h8L28 22z"/><circle cx="20" cy="8" r="4"/></g>
<text x="39.90" y="486.4" font-size="17.2" fill="#dedede" textLength="96.37" lengthAdjust="spacingAndGlyphs" stroke="#dedede" stroke-width="0.55">TradingView</text>
</svg></body></html>
